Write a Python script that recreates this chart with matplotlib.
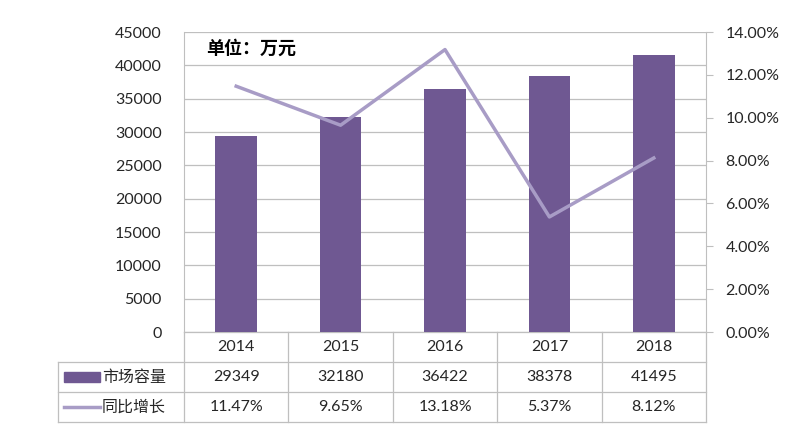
import matplotlib
matplotlib.use("Agg")
import matplotlib.pyplot as plt
from matplotlib.patches import Rectangle
from matplotlib.lines import Line2D
import matplotlib.transforms as mtransforms

plt.rcParams['font.family'] = ['Lato', 'Noto Sans CJK SC', 'DejaVu Sans']

years = ['2014', '2015', '2016', '2017', '2018']
capacity = [29349, 32180, 36422, 38378, 41495]
growth = [11.47, 9.65, 13.18, 5.37, 8.12]
growth_labels = ['11.47%', '9.65%', '13.18%', '5.37%', '8.12%']
series_names = ['市场容量', '同比增长']
unit_text = '单位：万元'

bar_color = '#6F5892'
line_color = '#A89CC6'
grid_color = '#BFBFBF'
text_color = '#262626'
fs = 11.5

fig = plt.figure(figsize=(7.87, 4.41), dpi=100)
ax = fig.add_axes([184/787, (441-332)/441, (706-184)/787, 300/441])
ax2 = ax.twinx()

x = list(range(len(years)))
ax.bar(x, capacity, width=0.4, color=bar_color, zorder=3)
ax.set_ylim(0, 45000)
ax.set_yticks(range(0, 45001, 5000))
ax.set_xlim(-0.5, len(years) - 0.5)
ax.set_xticks([])
ax.grid(axis='y', color=grid_color, linewidth=0.9, zorder=0)
ax.tick_params(axis='y', length=0, labelsize=fs, colors=text_color, pad=16)
for s in ['top', 'right', 'bottom']:
    ax.spines[s].set_visible(False)
ax.spines['left'].set_color(grid_color)

ax2.plot(x, growth, color=line_color, linewidth=2.5, zorder=4)
ax2.set_ylim(0, 14)
ax2.set_yticks([0, 2, 4, 6, 8, 10, 12, 14])
ax2.set_yticklabels([f'{v:.2f}%' for v in [0, 2, 4, 6, 8, 10, 12, 14]])
ax2.tick_params(axis='y', length=5, color=grid_color, labelsize=fs, colors=text_color, pad=9)
for s in ['top', 'left', 'bottom']:
    ax2.spines[s].set_visible(False)
ax2.spines['right'].set_color(grid_color)

ax.text(0.042, 0.945, unit_text, transform=ax.transAxes, fontsize=13,
        fontweight='bold', family=['Noto Sans CJK SC'], va='center', ha='left',
        color='black', zorder=5)

# Data table below the axes
trans = mtransforms.blended_transform_factory(ax.transData, ax.transAxes)
rh = 0.1
xl = -0.5 - 126/104.4
xr = len(years) - 0.5
lw = 0.9
def hline(y, x0, x1):
    ax.add_line(Line2D([x0, x1], [y, y], transform=trans, color=grid_color, lw=lw, clip_on=False))
def vline(xv, y0, y1):
    ax.add_line(Line2D([xv, xv], [y0, y1], transform=trans, color=grid_color, lw=lw, clip_on=False))

hline(0, -0.5, xr)
hline(-rh, xl, xr)
hline(-2*rh, xl, xr)
hline(-3*rh, xl, xr)
vline(xl, -rh, -3*rh)
for b in range(len(years) + 1):
    vline(b - 0.5, 0, -3*rh)

for i, yv in enumerate(years):
    ax.text(i, -0.5*rh, yv, transform=trans, ha='center', va='center', fontsize=fs, color=text_color)
    ax.text(i, -1.5*rh, str(capacity[i]), transform=trans, ha='center', va='center', fontsize=fs, color=text_color)
    ax.text(i, -2.5*rh, growth_labels[i], transform=trans, ha='center', va='center', fontsize=fs, color=text_color)

# legend keys
ax.add_patch(Rectangle((xl + 6/104.4, -1.5*rh - 0.017), 36/104.4, 0.034, transform=trans,
                       color=bar_color, clip_on=False))
ax.add_line(Line2D([xl + 6/104.4, xl + 42/104.4], [-2.5*rh, -2.5*rh], transform=trans,
                   color=line_color, lw=2.5, clip_on=False))
ax.text(xl + 44/104.4, -1.5*rh, series_names[0], transform=trans, ha='left', va='center',
        fontsize=fs, family=['Noto Sans CJK SC'], color=text_color)
ax.text(xl + 44/104.4, -2.5*rh, series_names[1], transform=trans, ha='left', va='center',
        fontsize=fs, family=['Noto Sans CJK SC'], color=text_color)

fig.savefig('out.png', dpi=100)
